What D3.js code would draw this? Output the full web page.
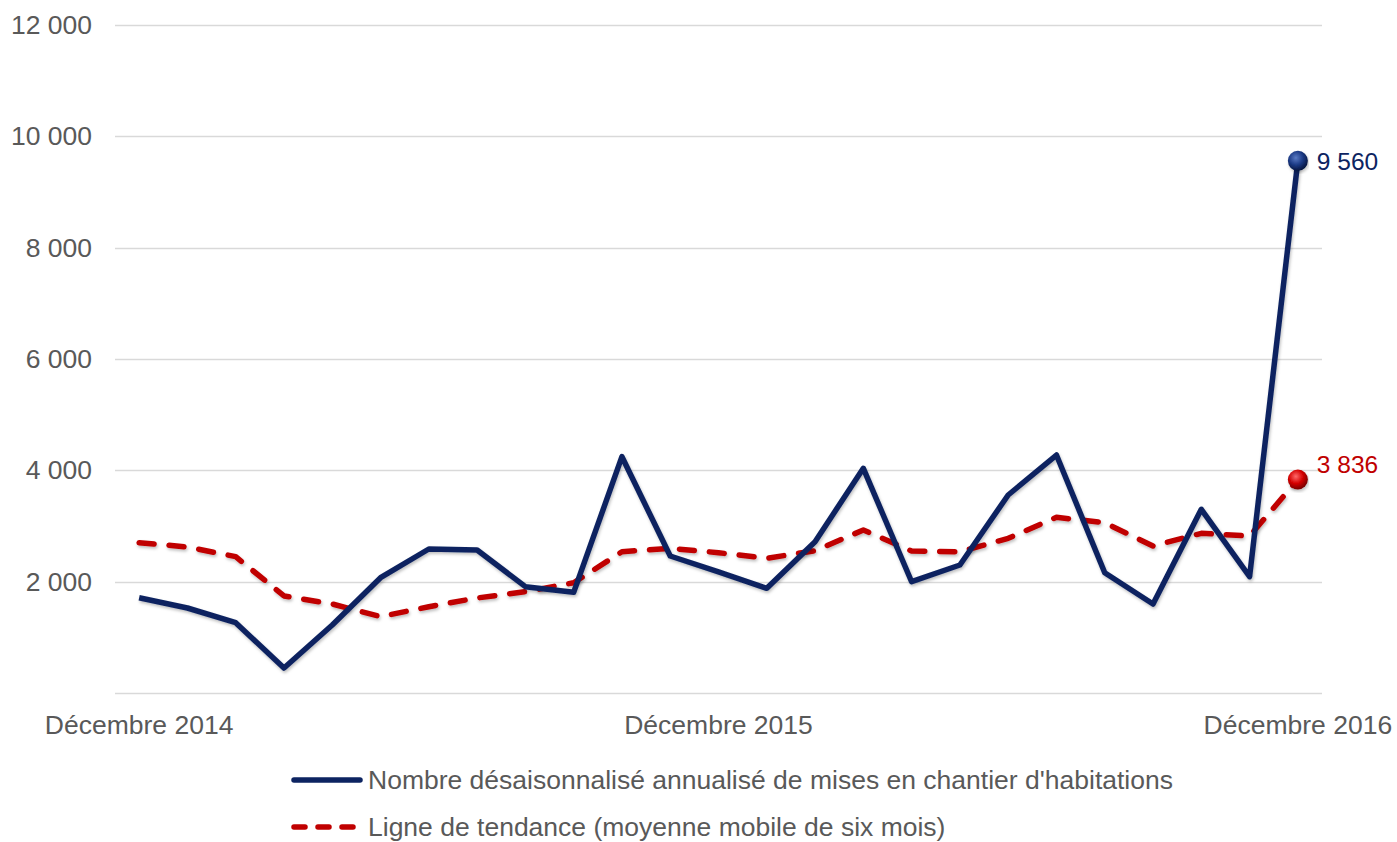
<!DOCTYPE html>
<html>
<head>
<meta charset="utf-8">
<script src="https://cdn.jsdelivr.net/npm/d3@7"></script>
<style>
  body { margin: 0; background: #fff; }
  svg { display: block; font-family: "Liberation Sans", Arial, sans-serif; }
</style>
</head>
<body>
<div id="chart"></div>
<script>
// months Dec 2014 .. Dec 2016
var months = [
  "2014-12","2015-01","2015-02","2015-03","2015-04","2015-05","2015-06","2015-07","2015-08","2015-09","2015-10","2015-11",
  "2015-12","2016-01","2016-02","2016-03","2016-04","2016-05","2016-06","2016-07","2016-08","2016-09","2016-10","2016-11",
  "2016-12"
];
var xLabels = { "2014-12": "Décembre 2014", "2015-12": "Décembre 2015", "2016-12": "Décembre 2016" };

var starts = [1712, 1527, 1263, 449, 1222, 2071, 2587, 2569, 1910, 1809, 4245, 2461,
  2174, 1881, 2718, 4036, 1999, 2299, 3557, 4275, 2161, 1599, 3300, 2089, 9560];
var trend = [2700, 2623, 2449, 1743, 1599, 1371, 1550, 1707, 1820, 1981, 2538, 2599,
  2520, 2420, 2556, 2928, 2551, 2538, 2779, 3156, 3059, 2641, 2869, 2820, 3836];

var yTicks = [2000, 4000, 6000, 8000, 10000, 12000];
var seriesNames = [
  "Nombre désaisonnalisé annualisé de mises en chantier d'habitations",
  "Ligne de tendance (moyenne mobile de six mois)"
];

var width = 1397, height = 842;
var blue = "#0d2461", red = "#c00000", grey = "#595959";
var fontSize = 26.5;

var svg = d3.select("#chart").append("svg")
  .attr("width", width)
  .attr("height", height);

var defs = svg.append("defs");
var shadow = defs.append("filter").attr("id", "shadow")
  .attr("x", "-5%").attr("y", "-5%").attr("width", "110%").attr("height", "120%");
shadow.append("feDropShadow")
  .attr("dx", 1).attr("dy", 2).attr("stdDeviation", 1.5)
  .attr("flood-color", "#000").attr("flood-opacity", 0.25);

function ball(id, light, base, dark) {
  var g = defs.append("radialGradient").attr("id", id)
    .attr("cx", "40%").attr("cy", "35%").attr("r", "65%");
  g.append("stop").attr("offset", "0%").attr("stop-color", light);
  g.append("stop").attr("offset", "55%").attr("stop-color", base);
  g.append("stop").attr("offset", "100%").attr("stop-color", dark);
}
ball("ballBlue", "#5a7bc4", "#1c3a85", "#061640");
ball("ballRed", "#ff6a6a", "#d40000", "#7a0000");

var x = d3.scalePoint()
  .domain(months)
  .range([115, 1322])
  .padding(0.5);

var y = d3.scaleLinear()
  .domain([0, 12000])
  .range([693, 25]);

// gridlines
svg.append("g")
  .selectAll("line")
  .data([0].concat(yTicks))
  .enter().append("line")
  .attr("x1", 115).attr("x2", 1322)
  .attr("y1", d => Math.round(y(d)) + 0.5)
  .attr("y2", d => Math.round(y(d)) + 0.5)
  .attr("stroke", "#d9d9d9")
  .attr("stroke-width", 1.5);

// y labels
svg.append("g")
  .selectAll("text")
  .data(yTicks)
  .enter().append("text")
  .attr("x", 92)
  .attr("y", d => y(d) + 9)
  .attr("text-anchor", "end")
  .attr("font-size", fontSize)
  .attr("fill", grey)
  .text(d => d3.format(",")(d).replace(/,/g, " "));

// x labels
svg.append("g")
  .selectAll("text")
  .data(months.filter(m => xLabels[m]))
  .enter().append("text")
  .attr("x", d => x(d))
  .attr("y", 734)
  .attr("text-anchor", "middle")
  .attr("font-size", fontSize)
  .attr("fill", grey)
  .text(d => xLabels[d]);

var line = d3.line()
  .x((d, i) => x(months[i]))
  .y(d => y(d));

svg.append("path")
  .datum(trend)
  .attr("d", line)
  .attr("fill", "none")
  .attr("stroke", red)
  .attr("stroke-width", 5.5)
  .attr("stroke-linecap", "round")
  .attr("stroke-linejoin", "round")
  .attr("stroke-dasharray", "15,15")
  .attr("filter", "url(#shadow)");

svg.append("path")
  .datum(starts)
  .attr("d", line)
  .attr("fill", "none")
  .attr("stroke", blue)
  .attr("stroke-width", 5.5)
  .attr("stroke-linejoin", "round")
  .attr("filter", "url(#shadow)");

// end markers + labels
var last = months.length - 1;
[[starts, "ballBlue", blue, 1], [trend, "ballRed", red, -14]].forEach(function(s) {
  var v = s[0][last];
  svg.append("circle")
    .attr("cx", x(months[last]))
    .attr("cy", y(v))
    .attr("r", 10)
    .attr("fill", "url(#" + s[1] + ")")
    .attr("filter", "url(#shadow)");
  svg.append("text")
    .attr("x", x(months[last]) + 19)
    .attr("y", y(v) + s[3] + 8)
    .attr("font-size", 24.5)
    .attr("fill", s[2])
    .text(d3.format(",")(v).replace(/,/g, " "));
});

// legend
var legend = svg.append("g");
seriesNames.forEach(function(name, i) {
  var ly = 780 + i * 47;
  legend.append("line")
    .attr("x1", 294).attr("x2", 360)
    .attr("y1", ly).attr("y2", ly)
    .attr("stroke", i == 0 ? blue : red)
    .attr("stroke-width", 5.5)
    .attr("stroke-linecap", "round")
    .attr("stroke-dasharray", i == 0 ? null : "11,13");
  legend.append("text")
    .attr("x", 368)
    .attr("y", ly + 9)
    .attr("font-size", fontSize)
    .attr("fill", grey)
    .text(name);
});
</script>
</body>
</html>
